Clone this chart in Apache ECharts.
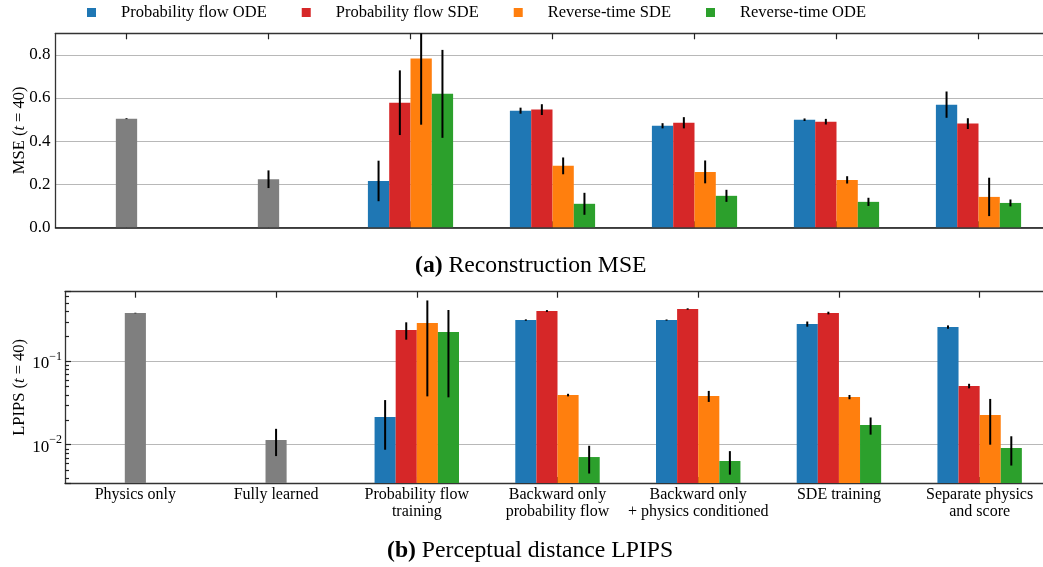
<!DOCTYPE html>
<html>
<head>
<meta charset="utf-8">
<script src="https://cdn.jsdelivr.net/npm/echarts@6/dist/echarts.min.js"></script>
<style>
  html, body { margin: 0; padding: 0; background: #fff; }
  #chart { width: 1043px; height: 567px; }
</style>
</head>
<body>
<div id="chart"></div>
<script>
// ---- categories and legend names ----
const categories = [
  'Physics only',
  'Fully learned',
  'Probability flow\ntraining',
  'Backward only\nprobability flow',
  'Backward only\n+ physics conditioned',
  'SDE training',
  'Separate physics\nand score'
];
const seriesNames = ['Probability flow ODE', 'Probability flow SDE', 'Reverse-time SDE', 'Reverse-time ODE'];
const mseTicks = [0.0, 0.2, 0.4, 0.6, 0.8];
const lpipsMinorTicks = [0.004, 0.005, 0.006, 0.007, 0.008, 0.009,
                         0.02, 0.03, 0.04, 0.05, 0.06, 0.07, 0.08, 0.09,
                         0.2, 0.3, 0.4, 0.5, 0.6];

// ---- (a) reconstruction MSE, means and std ----
const mseBaseline    = [0.504, 0.223, null, null, null, null, null];
const mseBaselineErr = [0.002, 0.041, null, null, null, null, null];
const mseProbOde     = [null, null, 0.215, 0.541, 0.471, 0.499, 0.569];
const mseProbOdeErr  = [null, null, 0.094, 0.014, 0.012, 0.006, 0.061];
const mseProbSde     = [null, null, 0.578, 0.546, 0.485, 0.490, 0.481];
const mseProbSdeErr  = [null, null, 0.150, 0.025, 0.026, 0.013, 0.025];
const mseRevSde      = [null, null, 0.783, 0.285, 0.257, 0.220, 0.141];
const mseRevSdeErr   = [null, null, 0.307, 0.039, 0.053, 0.017, 0.089];
const mseRevOde      = [null, null, 0.619, 0.109, 0.146, 0.118, 0.113];
const mseRevOdeErr   = [null, null, 0.204, 0.051, 0.028, 0.019, 0.016];

// ---- (b) perceptual distance LPIPS, means and std ----
const lpipsBaseline    = [0.380, 0.0114, null, null, null, null, null];
const lpipsBaselineErr = [0.003, 0.0041, null, null, null, null, null];
const lpipsProbOde     = [null, null, 0.0215, 0.313, 0.313, 0.2805, 0.258];
const lpipsProbOdeErr  = [null, null, 0.0128, 0.006, 0.005, 0.020, 0.012];
const lpipsProbSde     = [null, null, 0.238, 0.402, 0.425, 0.380, 0.0506];
const lpipsProbSdeErr  = [null, null, 0.056, 0.010, 0.008, 0.014, 0.0032];
const lpipsRevSde      = [null, null, 0.288, 0.0394, 0.0384, 0.0373, 0.0227];
const lpipsRevSdeErr   = [null, null, 0.250, 0.0014, 0.0058, 0.0022, 0.0127];
const lpipsRevOde      = [null, null, 0.225, 0.00711, 0.00637, 0.0172, 0.00912];
const lpipsRevOdeErr   = [null, null, 0.188, 0.0026, 0.0020, 0.0040, 0.0035];

const colors = ['#1f77b4', '#d62728', '#ff7f0e', '#2ca02c'];
const grey = '#7f7f7f';
const FONT = '"Liberation Serif", "DejaVu Serif", serif';
const BAR_FRAC = 0.15;

const chart = echarts.init(document.getElementById('chart'), null, { renderer: 'canvas' });

function errorItems(values, errors, slot) {
  const out = [];
  values.forEach((v, i) => { if (v != null) out.push([i, v, errors[i], slot]); });
  return out;
}

// vertical black error bar at the centre of the bar in the given slot
function renderErrorBar(params, api) {
  const cat = api.value(0), mean = api.value(1), err = api.value(2), slot = api.value(3);
  const band = api.size([1, 0])[0];
  const cs = params.coordSys;
  const x = api.coord([cat, mean])[0] + (slot < 0 ? 0 : (slot - 1.5) * band * BAR_FRAC);
  let y1 = api.coord([cat, mean + err])[1];
  let y2 = api.coord([cat, mean - err])[1];
  if (!isFinite(y2)) y2 = cs.y + cs.height;
  y1 = Math.max(y1, cs.y);
  y2 = Math.min(y2, cs.y + cs.height);
  return {
    type: 'line',
    shape: { x1: x, y1: y1, x2: x, y2: y2 },
    style: { stroke: '#000', lineWidth: 2 }
  };
}

// short inward minor ticks on the log axis
function renderMinorTick(params, api) {
  const cs = params.coordSys;
  const y = Math.round(api.coord([0, api.value(1)])[1]) + 0.5;
  return {
    type: 'line',
    shape: { x1: cs.x, y1: y, x2: cs.x + 4, y2: y },
    style: { stroke: '#222', lineWidth: 1.2 }
  };
}

const supMinus = '\u2212';
function logLabel(v) {
  const l = Math.log10(v);
  const e = Math.round(l);
  if (Math.abs(l - e) > 1e-6) return '';
  return '{b|10}{s|' + (e < 0 ? supMinus : '') + Math.abs(e) + '}';
}

const catAxisBase = {
  type: 'category',
  data: categories,
  boundaryGap: true,
  axisTick: { show: true, inside: true, alignWithLabel: true, interval: 0, length: 6,
              lineStyle: { color: '#222', width: 1.2 } },
  splitLine: { show: false }
};

function bars(name, data, color, xi, yi) {
  return {
    name: name, type: 'bar', data: data, xAxisIndex: xi, yAxisIndex: yi,
    barWidth: (BAR_FRAC * 100) + '%', barGap: '0%',
    itemStyle: { color: color }, z: 2, animation: false
  };
}

const captionStyle = {
  fontFamily: FONT, fontSize: 23.7, fontWeight: 'normal', color: '#000', lineHeight: 24,
  rich: { b: { fontFamily: FONT, fontSize: 23.7, fontWeight: 'bold', color: '#000', lineHeight: 24 } }
};

const nameStyle = {
  fontFamily: FONT, fontSize: 16.5, color: '#000',
  rich: { i: { fontFamily: FONT, fontSize: 16.5, fontStyle: 'italic', color: '#000' } }
};

const option = {
  animation: false,
  backgroundColor: '#fff',
  textStyle: { fontFamily: FONT },
  title: [
    { text: '{b|(a)} Reconstruction MSE', left: 415, top: 254, padding: 0, textStyle: captionStyle },
    { text: '{b|(b)} Perceptual distance LPIPS', left: 387, top: 539, padding: 0, textStyle: captionStyle }
  ],
  legend: {
    data: seriesNames,
    left: 87, top: 4, padding: 0,
    icon: 'rect', itemWidth: 9, itemHeight: 9, itemGap: 35,
    textStyle: { fontFamily: FONT, fontSize: 16.5, color: '#000', padding: [0, 0, 0, 20] }
  },
  grid: [
    { left: 55.5, right: -6.5, top: 33.3, height: 194, containLabel: false, outerBoundsMode: 'none' },
    { left: 65, right: -7, top: 291.7, height: 191.3, containLabel: false, outerBoundsMode: 'none' }
  ],
  xAxis: [
    Object.assign({}, catAxisBase, { gridIndex: 0, position: 'bottom',
      axisLine: { show: true, lineStyle: { color: '#111', width: 1.6 } },
      axisLabel: { show: false } }),
    Object.assign({}, catAxisBase, { gridIndex: 0, position: 'top',
      axisLine: { show: true, lineStyle: { color: '#333', width: 1.3 } },
      axisLabel: { show: false } }),
    Object.assign({}, catAxisBase, { gridIndex: 1, position: 'bottom',
      axisLine: { show: true, lineStyle: { color: '#333', width: 1.3 } },
      axisLabel: { show: true, interval: 0, margin: 3, color: '#000', fontFamily: FONT,
                   fontSize: 16, lineHeight: 17 } }),
    Object.assign({}, catAxisBase, { gridIndex: 1, position: 'top',
      axisLine: { show: true, lineStyle: { color: '#333', width: 1.3 } },
      axisLabel: { show: false } })
  ],
  yAxis: [
    {
      type: 'value', gridIndex: 0, min: 0, max: 0.9, interval: 0.2,
      name: 'MSE ({i|t} = 40)', nameLocation: 'middle', nameRotate: 90, nameGap: 27,
      nameMoveOverlap: false, nameTextStyle: nameStyle,
      axisLine: { show: true, lineStyle: { color: '#333', width: 1.3 } },
      axisTick: { show: false },
      axisLabel: { color: '#000', fontFamily: FONT, fontSize: 17, margin: 5,
        formatter: v => mseTicks.some(t => Math.abs(t - v) < 1e-9) ? v.toFixed(1) : '' },
      splitLine: { show: true, lineStyle: { color: '#b8b8b8', width: 1.2 } }
    },
    {
      type: 'log', gridIndex: 1, min: 0.00347, max: 0.685, startValue: 0.00347, logBase: 10,
      name: 'LPIPS ({i|t} = 40)', nameLocation: 'middle', nameRotate: 90, nameGap: 36.5,
      nameMoveOverlap: false, nameTextStyle: nameStyle,
      axisLine: { show: true, lineStyle: { color: '#333', width: 1.3 } },
      axisTick: { show: true, inside: true, length: 6, lineStyle: { color: '#222', width: 1.2 } },
      axisLabel: { color: '#000', fontFamily: FONT, margin: 3, formatter: logLabel,
        rich: {
          b: { fontFamily: FONT, fontSize: 17, color: '#000', lineHeight: 22, verticalAlign: 'bottom' },
          s: { fontFamily: FONT, fontSize: 12, color: '#000', lineHeight: 12, verticalAlign: 'top' }
        } },
      splitLine: { show: true, lineStyle: { color: '#b8b8b8', width: 1.2 } }
    }
  ],
  series: [
    // (a) MSE
    bars('Baseline', mseBaseline, grey, 1, 0),
    bars(seriesNames[0], mseProbOde, colors[0], 0, 0),
    bars(seriesNames[1], mseProbSde, colors[1], 0, 0),
    bars(seriesNames[2], mseRevSde, colors[2], 0, 0),
    bars(seriesNames[3], mseRevOde, colors[3], 0, 0),
    {
      type: 'custom', xAxisIndex: 0, yAxisIndex: 0, z: 5, renderItem: renderErrorBar,
      encode: { x: 0, y: 1 },
      data: [].concat(
        errorItems(mseBaseline, mseBaselineErr, -1),
        errorItems(mseProbOde, mseProbOdeErr, 0),
        errorItems(mseProbSde, mseProbSdeErr, 1),
        errorItems(mseRevSde, mseRevSdeErr, 2),
        errorItems(mseRevOde, mseRevOdeErr, 3))
    },
    // (b) LPIPS
    bars('Baseline', lpipsBaseline, grey, 3, 1),
    bars(seriesNames[0], lpipsProbOde, colors[0], 2, 1),
    bars(seriesNames[1], lpipsProbSde, colors[1], 2, 1),
    bars(seriesNames[2], lpipsRevSde, colors[2], 2, 1),
    bars(seriesNames[3], lpipsRevOde, colors[3], 2, 1),
    {
      type: 'custom', xAxisIndex: 2, yAxisIndex: 1, z: 5, renderItem: renderErrorBar,
      encode: { x: 0, y: 1 },
      data: [].concat(
        errorItems(lpipsBaseline, lpipsBaselineErr, -1),
        errorItems(lpipsProbOde, lpipsProbOdeErr, 0),
        errorItems(lpipsProbSde, lpipsProbSdeErr, 1),
        errorItems(lpipsRevSde, lpipsRevSdeErr, 2),
        errorItems(lpipsRevOde, lpipsRevOdeErr, 3))
    },
    {
      type: 'custom', xAxisIndex: 2, yAxisIndex: 1, z: 6, renderItem: renderMinorTick,
      encode: { x: 0, y: 1 }, silent: true,
      data: lpipsMinorTicks.map(v => [0, v])
    }
  ]
};

chart.setOption(option);
</script>
</body>
</html>
